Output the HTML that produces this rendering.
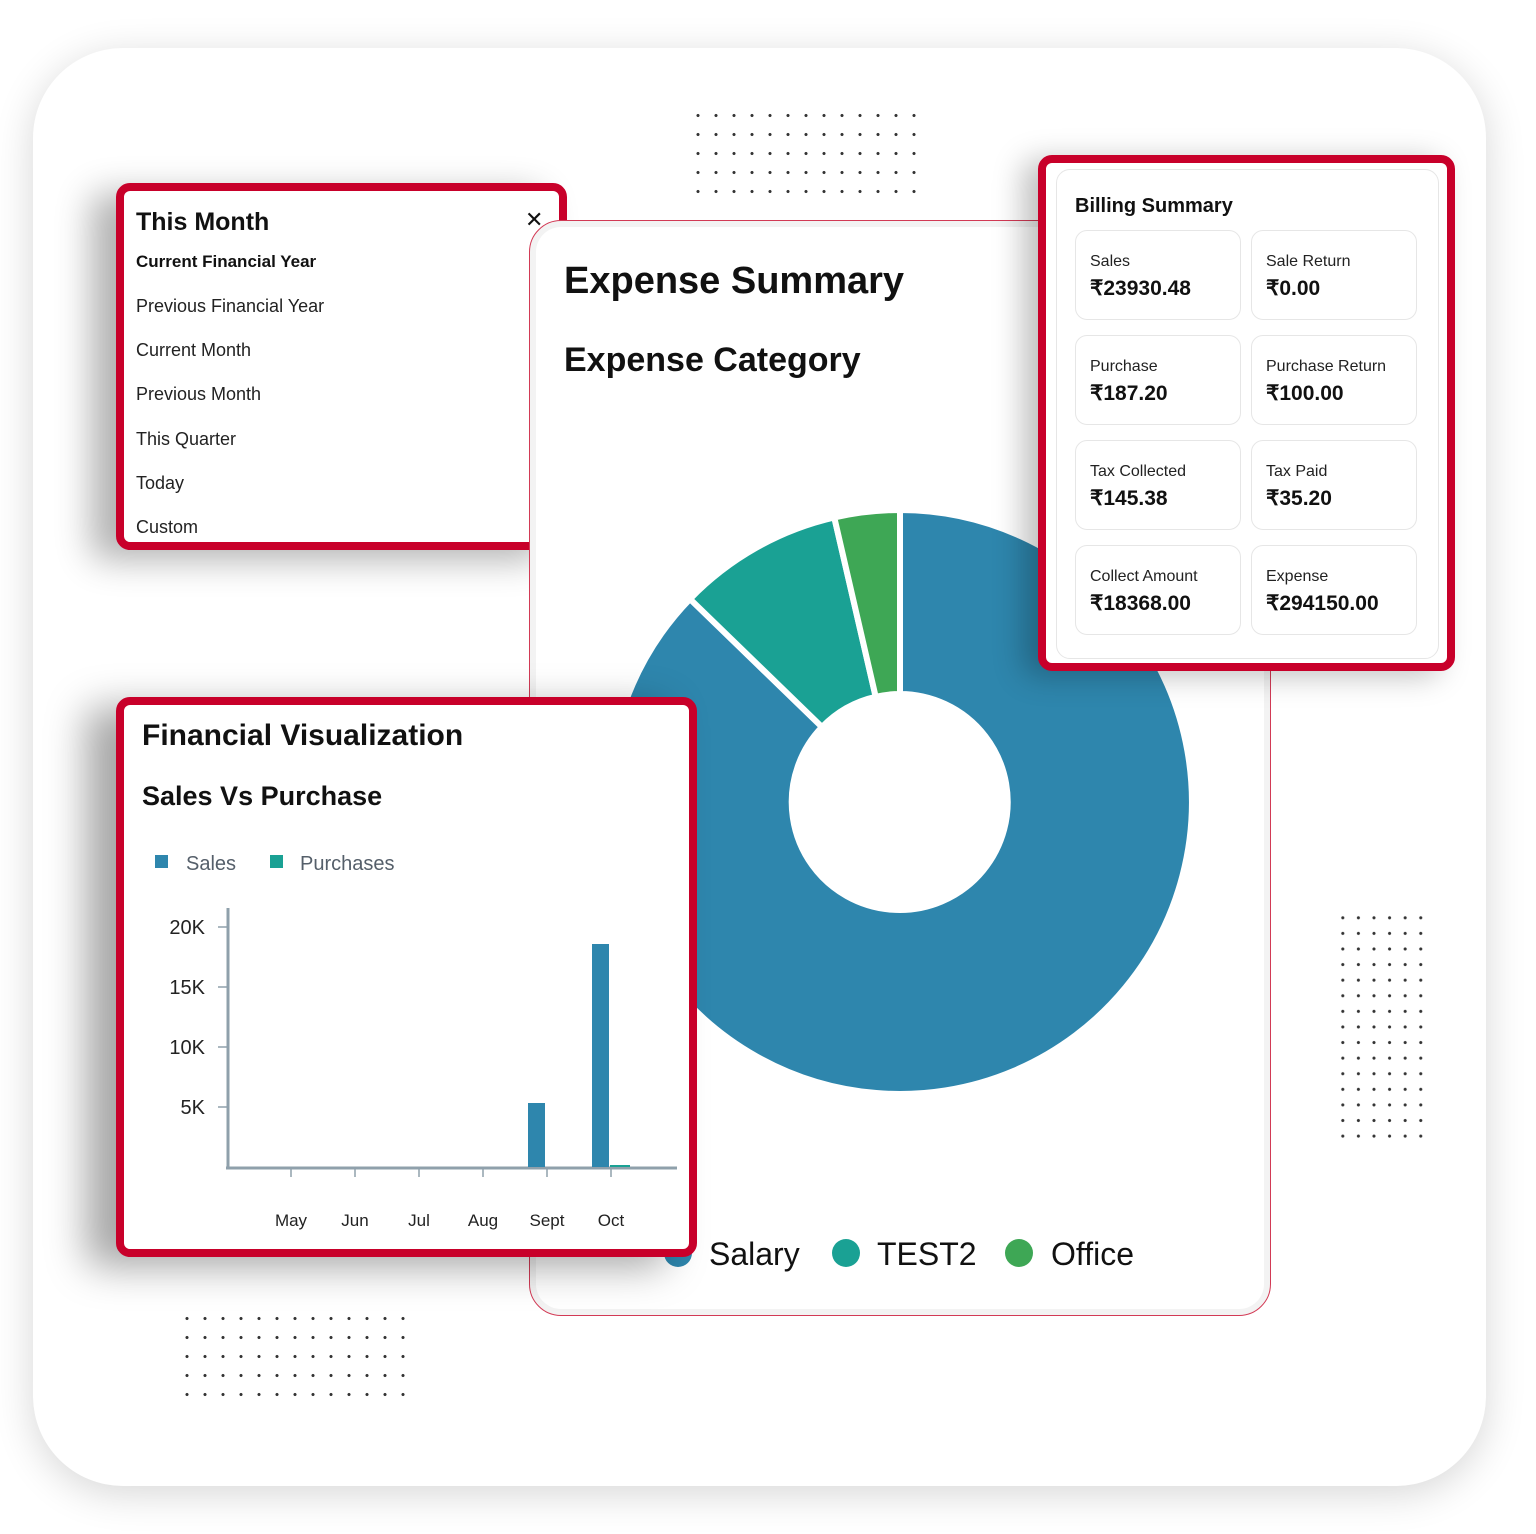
<!DOCTYPE html>
<html><head><meta charset="utf-8"><style>
*{margin:0;padding:0;box-sizing:border-box}
body{width:1536px;height:1534px;background:#fff;position:relative;overflow:hidden;font-family:"Liberation Sans",sans-serif;color:#111}
.abs{position:absolute}
.outer{left:33px;top:48px;width:1453px;height:1438px;border-radius:90px;background:#fff;box-shadow:0 8px 40px rgba(0,0,0,.16)}
.dots{position:absolute;background-image:radial-gradient(circle,#333 1.3px,transparent 1.8px)}
.frame{position:absolute;border:8px solid #c8002a;border-radius:14px;background:#fff;box-shadow:-25px 10px 35px rgba(0,0,0,.3)}
.dd div{position:absolute;left:12px;font-size:18px;color:#222}
.tile{position:absolute;width:166px;height:90px;border:1px solid #e6e6e6;border-radius:12px;background:#fff}
.tile .l{position:absolute;left:14px;top:22px;font-size:16px;color:#222}
.tile .v{position:absolute;left:14px;top:45px;font-size:21px;font-weight:bold;color:#111}
</style></head><body>
<div class="abs outer"></div>
<div class="dots" style="left:689px;top:106px;width:234px;height:90px;background-size:18px 19px"></div>
<div class="dots" style="left:1335px;top:910px;width:93px;height:234px;background-size:15.6px 15.6px"></div>
<div class="dots" style="left:178px;top:1309px;width:234px;height:90px;background-size:18px 19px"></div>

<div class="frame dd" style="left:116px;top:183px;width:451px;height:367px">
<div style="top:17px;font-size:25px;font-weight:bold;color:#111">This Month</div>
<div style="top:61px;font-weight:bold;font-size:17px;color:#111">Current Financial Year</div>
<div style="top:105px">Previous Financial Year</div>
<div style="top:149px">Current Month</div>
<div style="top:193px">Previous Month</div>
<div style="top:238px">This Quarter</div>
<div style="top:282px">Today</div>
<div style="top:326px">Custom</div>
</div>

<div class="abs" style="left:529px;top:220px;width:742px;height:1096px;border:1px solid #d23a55;border-radius:32px;background:#fff;box-shadow:inset 0 0 0 6px #f3f3f3"></div>
<div class="abs" style="left:525px;top:209px;font-size:22px;line-height:22px">✕</div>
<div class="abs" style="left:564px;top:260px;font-size:38px;font-weight:bold">Expense Summary</div>
<div class="abs" style="left:564px;top:341px;font-size:34px;font-weight:bold">Expense Category</div>
<svg class="abs" style="left:0;top:0" width="1536" height="1534">
<g stroke="#fff" stroke-width="6" stroke-linejoin="round">
<path d="M900 510 A292 292 0 1 1 690 599 L822 727 A108 108 0 1 0 900 694 Z" fill="#2e86ad"/>
<path d="M690 599 A292 292 0 0 1 834.3 517.5 L875.7 696.8 A108 108 0 0 0 822 727 Z" fill="#1aa194"/>
<path d="M834.3 517.5 A292 292 0 0 1 900 510 L900 694 A108 108 0 0 0 875.7 696.8 Z" fill="#3ea755"/>
</g>
<circle cx="678" cy="1253" r="14" fill="#2e86ad"/>
<circle cx="846" cy="1253" r="14" fill="#1aa194"/>
<circle cx="1019" cy="1253" r="14" fill="#3ea755"/>
<g font-family="Liberation Sans, sans-serif" font-size="32" fill="#111">
<text x="709" y="1265">Salary</text><text x="877" y="1265">TEST2</text><text x="1051" y="1265">Office</text>
</g>
</svg>

<div class="frame" style="left:1038px;top:155px;width:417px;height:516px;box-shadow:-15px 5px 30px rgba(0,0,0,.25)">
<div class="abs" style="left:10px;top:6px;width:383px;height:490px;border:1px solid #e6e6e6;border-radius:14px"></div>
<div class="abs" style="left:29px;top:32px;font-size:20px;font-weight:bold">Billing Summary</div>
<div class="tile" style="left:29px;top:67px"><div class="l">Sales</div><div class="v">₹23930.48</div></div>
<div class="tile" style="left:205px;top:67px"><div class="l">Sale Return</div><div class="v">₹0.00</div></div>
<div class="tile" style="left:29px;top:172px"><div class="l">Purchase</div><div class="v">₹187.20</div></div>
<div class="tile" style="left:205px;top:172px"><div class="l">Purchase Return</div><div class="v">₹100.00</div></div>
<div class="tile" style="left:29px;top:277px"><div class="l">Tax Collected</div><div class="v">₹145.38</div></div>
<div class="tile" style="left:205px;top:277px"><div class="l">Tax Paid</div><div class="v">₹35.20</div></div>
<div class="tile" style="left:29px;top:382px"><div class="l">Collect Amount</div><div class="v">₹18368.00</div></div>
<div class="tile" style="left:205px;top:382px"><div class="l">Expense</div><div class="v">₹294150.00</div></div>
</div>

<div class="frame" style="left:116px;top:697px;width:581px;height:560px;box-shadow:-30px 10px 40px rgba(0,0,0,.35)">
<div class="abs" style="left:18px;top:14px;font-size:30px;font-weight:bold">Financial Visualization</div>
<div class="abs" style="left:18px;top:76px;font-size:27px;font-weight:bold">Sales Vs Purchase</div>
</div>
<svg class="abs" style="left:0;top:0" width="1536" height="1534">
<rect x="155" y="855" width="13" height="13" fill="#2e86ad"/>
<rect x="270" y="855" width="13" height="13" fill="#1aa194"/>
<g font-family="Liberation Sans, sans-serif" fill="#555f6a" font-size="20"><text x="186" y="870">Sales</text><text x="300" y="870">Purchases</text></g>
<g stroke="#8fa0ab" stroke-width="3"><line x1="228" y1="908" x2="228" y2="1168"/><line x1="226" y1="1168" x2="677" y2="1168"/></g>
<g stroke="#8fa0ab" stroke-width="1.5">
<line x1="218" y1="927" x2="228" y2="927"/><line x1="218" y1="987" x2="228" y2="987"/><line x1="218" y1="1047" x2="228" y2="1047"/><line x1="218" y1="1107" x2="228" y2="1107"/>
<line x1="291" y1="1168" x2="291" y2="1177"/><line x1="355" y1="1168" x2="355" y2="1177"/><line x1="419" y1="1168" x2="419" y2="1177"/><line x1="483" y1="1168" x2="483" y2="1177"/><line x1="547" y1="1168" x2="547" y2="1177"/><line x1="611" y1="1168" x2="611" y2="1177"/>
</g>
<rect x="528" y="1103" width="17" height="64" fill="#2e86ad"/>
<rect x="592" y="944" width="17" height="223" fill="#2e86ad"/>
<rect x="610" y="1165" width="20" height="2" fill="#1aa194"/>
<g font-family="Liberation Sans, sans-serif" fill="#222" font-size="20" text-anchor="end"><text x="205" y="934">20K</text><text x="205" y="994">15K</text><text x="205" y="1054">10K</text><text x="205" y="1114">5K</text></g>
<g font-family="Liberation Sans, sans-serif" fill="#222" font-size="17" text-anchor="middle"><text x="291" y="1226">May</text><text x="355" y="1226">Jun</text><text x="419" y="1226">Jul</text><text x="483" y="1226">Aug</text><text x="547" y="1226">Sept</text><text x="611" y="1226">Oct</text></g>
</svg>
</body></html>
